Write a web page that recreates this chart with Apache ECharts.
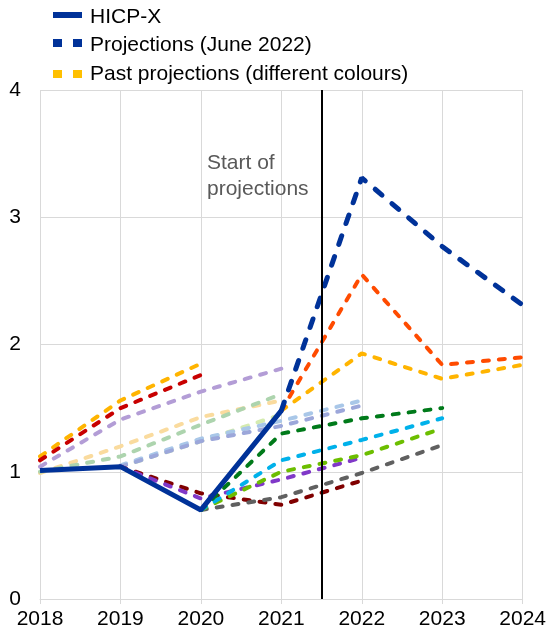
<!DOCTYPE html>
<html>
<head>
<meta charset="utf-8">
<script src="https://cdn.jsdelivr.net/npm/echarts@6/dist/echarts.min.js"></script>
<style>
html,body{margin:0;padding:0;background:#fff;}
#chart{width:549px;height:636px;}
</style>
</head>
<body>
<div id="chart"></div>
<script>
// ---- data ----
const years = [2018, 2019, 2020, 2021, 2022, 2023, 2024];
const yTicks = [0, 1, 2, 3, 4];
const startOfProjections = 2021.5;

const hicpX          = [1.01, 1.04, 0.70, 1.48, null, null, null];
const projJune2022   = [null, null, null, 1.48, 3.31, 2.77, 2.31];

// past projections (various vintages)
const pastOrangeRed  = [null, null, null, 1.48, 2.55, 1.84, 1.90];
const pastAmber      = [null, null, null, 1.48, 1.93, 1.73, 1.84];
const pastYellow     = [1.12, 1.56, 1.85, null, null, null, null];
const pastRed        = [1.09, 1.50, 1.76, null, null, null, null];
const pastLavender   = [1.04, 1.41, 1.63, 1.81, null, null, null];
const pastPaleOrange = [0.99, 1.20, 1.43, 1.56, null, null, null];
const pastSage       = [1.00, 1.12, 1.37, 1.61, null, null, null];
const pastLightBlue  = [null, 1.05, 1.26, 1.40, 1.56, null, null];
const pastPeriwinkle = [null, 1.04, 1.24, 1.36, 1.52, null, null];
const pastPaleLime   = [null, 1.04, 1.24, 1.45, null, null, null];
const pastMaroon     = [null, 1.04, 0.83, 0.74, 0.93, null, null];
const pastPurple     = [null, 1.04, 0.79, 0.94, 1.11, null, null];
const pastDarkGreen  = [null, null, 0.70, 1.30, 1.42, 1.50, null];
const pastCyan       = [null, null, 0.70, 1.09, 1.25, 1.42, null];
const pastLime       = [null, null, 0.70, 1.00, 1.13, 1.34, null];
const pastGrey       = [null, null, 0.70, 0.80, 0.99, 1.21, null];

const legendNames = ['HICP-X', 'Projections (June 2022)', 'Past projections (different colours)'];
const annotation = ['Start of', 'projections'];

// ---- build ----
const FONT = '"Liberation Sans", Arial, sans-serif';
function pts(arr) {
  const out = [];
  arr.forEach((v, i) => { if (v !== null) out.push([years[i], v]); });
  return out;
}
function pastSeries(arr, color) {
  return {
    type: 'line', data: pts(arr), symbol: 'none', silent: true, z: 2,
    lineStyle: { color: color, width: 4, type: [6, 10], cap: 'round' }
  };
}

const series = [
  pastSeries(pastPaleOrange, '#FADB9E'),
  pastSeries(pastSage, '#ADD4AE'),
  pastSeries(pastPaleLime, '#D5EBB0'),
  pastSeries(pastLightBlue, '#A9C7E8'),
  pastSeries(pastPeriwinkle, '#9CA7DA'),
  pastSeries(pastLavender, '#B39DD6'),
  pastSeries(pastYellow, '#FFB400'),
  pastSeries(pastRed, '#C80000'),
  pastSeries(pastMaroon, '#800000'),
  pastSeries(pastPurple, '#8038C8'),
  pastSeries(pastGrey, '#606060'),
  pastSeries(pastLime, '#6CBE00'),
  pastSeries(pastCyan, '#00B1EA'),
  pastSeries(pastDarkGreen, '#007A1A'),
  pastSeries(pastAmber, '#FFB400'),
  pastSeries(pastOrangeRed, '#FF4B00'),
  {
    name: legendNames[1], type: 'line', data: pts(projJune2022), symbol: 'none', z: 3,
    lineStyle: { color: '#003299', width: 5, type: [9, 13], cap: 'round' }
  },
  {
    name: legendNames[0], type: 'line', data: pts(hicpX), symbol: 'none', z: 4,
    lineStyle: { color: '#003299', width: 5, type: 'solid' },
    markLine: {
      silent: true, symbol: 'none', z: 10, animation: false,
      label: { show: false },
      lineStyle: { color: '#000', width: 2, type: 'solid' },
      data: [{ xAxis: startOfProjections }]
    }
  }
];

const chart = echarts.init(document.getElementById('chart'));
chart.setOption({
  animation: false,
  backgroundColor: '#fff',
  grid: { left: 40, right: 25, top: 90, bottom: 37, containLabel: false },
  xAxis: {
    type: 'value', min: years[0], max: years[years.length - 1], interval: 1,
    axisLine: { show: true, lineStyle: { color: '#d9d9d9', width: 1 } },
    axisTick: { show: true, length: 5, lineStyle: { color: '#d9d9d9' } },
    splitLine: { show: true, lineStyle: { color: '#d9d9d9', width: 1 } },
    axisLabel: { color: '#000', fontSize: 21, fontFamily: FONT, margin: 10,
      formatter: v => String(v) }
  },
  yAxis: {
    type: 'value', min: yTicks[0], max: yTicks[yTicks.length - 1], interval: 1,
    axisLine: { show: false }, axisTick: { show: false },
    splitLine: { show: true, lineStyle: { color: '#d9d9d9', width: 1 } },
    axisLabel: { color: '#000', fontSize: 21, fontFamily: FONT, margin: 19 }
  },
  graphic: [
    { type: 'rect', shape: { x: 53, y: 12, width: 29, height: 6 }, style: { fill: '#003299' } },
    { type: 'rect', shape: { x: 53, y: 39, width: 9, height: 8 }, style: { fill: '#003299' } },
    { type: 'rect', shape: { x: 73, y: 39, width: 9, height: 8 }, style: { fill: '#003299' } },
    { type: 'rect', shape: { x: 53, y: 70, width: 9, height: 8 }, style: { fill: '#FFC000' } },
    { type: 'rect', shape: { x: 73, y: 70, width: 9, height: 8 }, style: { fill: '#FFC000' } },
    { type: 'text', x: 90, y: 17, style: { text: legendNames[0], fill: '#000', font: '21px ' + FONT, textVerticalAlign: 'middle' } },
    { type: 'text', x: 90, y: 45, style: { text: legendNames[1], fill: '#000', font: '21px ' + FONT, textVerticalAlign: 'middle' } },
    { type: 'text', x: 90, y: 74, style: { text: legendNames[2], fill: '#000', font: '21px ' + FONT, textVerticalAlign: 'middle' } },
    { type: 'text', x: 207, y: 163, z: 20, style: { text: annotation[0], fill: '#595959', font: '21px ' + FONT, textVerticalAlign: 'middle' } },
    { type: 'text', x: 207, y: 189, z: 20, style: { text: annotation[1], fill: '#595959', font: '21px ' + FONT, textVerticalAlign: 'middle' } }
  ],
  series: series
});
</script>
</body>
</html>
